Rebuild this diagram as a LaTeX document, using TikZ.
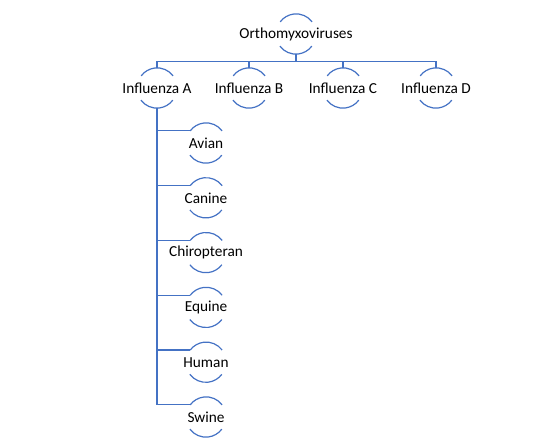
\documentclass[tikz,border=0pt]{standalone}
\usepackage{fontspec}
\setmainfont{Carlito}
\definecolor{lineBlue}{HTML}{4472C4}
\usetikzlibrary{positioning}

\begin{document}
\begin{tikzpicture}[
    x=1pt, y=1pt,
    ring/.style={circle, minimum size=40pt, inner sep=0pt,
                 label={[font=\fontsize{15.3}{18}\selectfont, text=black]center:#1}},
    link/.style={draw=lineBlue, line width=1.2pt}
  ]
    \useasboundingbox (0,0) rectangle (553,-439);
    % top level
    \node[ring=Orthomyxoviruses] (root) at (296,-34) {};
    \node[ring={Influenza A}] (ia) at (157,-88) {};
    \node[ring={Influenza B}] (ib) at (249,-88) {};
    \node[ring={Influenza C}] (ic) at (343,-88) {};
    \node[ring={Influenza D}] (id) at (436,-88) {};
    % hosts of influenza A
    \node[ring=Avian] (avian) at (206,-143) {};
    \node[ring=Canine, below=14.4pt of avian] (canine) {};
    \node[ring=Chiropteran, below=14.4pt of canine] (chiro) {};
    \node[ring=Equine, below=14.4pt of chiro] (equine) {};
    \node[ring=Human, below=14.4pt of equine] (human) {};
    \node[ring=Swine, below=14.4pt of human] (swine) {};

    \foreach \n in {root,ia,ib,ic,id,avian,canine,chiro,equine,human,swine} {
      \draw[link] (\n.37) arc[start angle=37, end angle=143, radius=20pt];
      \draw[link] (\n.217) arc[start angle=217, end angle=323, radius=20pt];
    }

    \foreach \n in {ia,ib,ic,id}
      \draw[link] (root.south) -- ++(0,-7) -| (\n.north);
    \foreach \n in {avian,canine,chiro,equine,human,swine}
      \draw[link] (ia.south) |- (\n.143);
  \end{tikzpicture}
\end{document}
